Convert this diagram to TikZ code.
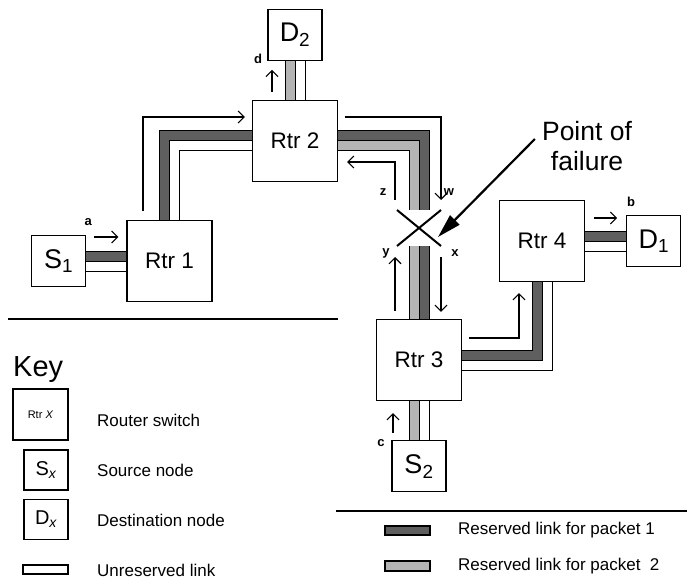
\documentclass[tikz,border=0pt]{standalone}
\usepackage{fontspec}
\setmainfont{Liberation Sans}
\usepackage{xcolor}
\usepackage{tikz}
\usetikzlibrary{arrows.meta, positioning, backgrounds, calc}
\definecolor{pktone}{RGB}{95, 95, 95}
\definecolor{pkttwo}{RGB}{180, 180, 180}

\begin{document}
\begin{tikzpicture}[x=1pt, y=-1pt,
    router/.style={draw, line width=1.3pt, fill=white, minimum width=85pt,
                   minimum height=81pt, inner sep=0pt, font=\fontsize{22.5}{24}\selectfont},
    endpt/.style={draw, line width=1.3pt, fill=white, minimum width=54pt,
                  minimum height=51pt, inner sep=0pt, font=\fontsize{27}{29}\selectfont},
    keybox/.style={draw, line width=1.3pt, fill=white, minimum width=44pt,
                   minimum height=40pt, inner sep=0pt, font=\fontsize{20}{22}\selectfont},
    resone/.style={draw=black, line width=1pt, double=pktone, double distance=9pt},
    restwo/.style={draw=black, line width=1pt, double=pkttwo, double distance=9pt},
    unres/.style={draw=black, line width=1pt, double=white, double distance=9pt},
    flow/.style={line width=1.1pt, -{Straight Barb[length=6pt, width=12pt]}},
    lbl/.style={font=\fontsize{13}{13}\selectfont\bfseries, inner sep=0pt},
    keytext/.style={anchor=west, inner sep=0pt, font=\fontsize{17}{19}\selectfont}
]
\useasboundingbox (0,0) rectangle (687,580);

% routers and end nodes
\node[router] (rtr1) at (169.5,261) {Rtr 1};
\node[router] (rtr2) at (295,141) {Rtr 2};
\node[router] (rtr3) at (419,360) {Rtr 3};
\node[router] (rtr4) at (542,241) {Rtr 4};
\node[endpt, left=40pt of rtr1] (s1) {S\textsubscript{1}};
\node[endpt, above=39pt of rtr2] (d2) {D\textsubscript{2}};
\node[endpt, below=39pt of rtr3] (s2) {S\textsubscript{2}};
\node[endpt, right=41pt of rtr4] (d1) {D\textsubscript{1}};
\coordinate (fail) at (419,228);

% links
\begin{scope}[on background layer]
    \draw[resone] ($(s1.east)+(0,-5)$) -- ($(rtr1.west)+(0,-5)$);
    \draw[unres] ($(s1.east)+(0,5)$) -- ($(rtr1.west)+(0,5)$);
    \draw[resone] ($(rtr1.north)+(-5,0)$) |- ($(rtr2.west)+(0,-5)$);
    \draw[unres] ($(rtr1.north)+(5,0)$) |- ($(rtr2.west)+(0,5)$);
    \draw[restwo] ($(rtr2.north)+(-5,0)$) -- ($(d2.south)+(-5,0)$);
    \draw[unres] ($(rtr2.north)+(5,0)$) -- ($(d2.south)+(5,0)$);
    \draw[resone] ($(rtr2.east)+(0,-5)$) -| ($(fail)+(5,-18)$);
    \draw[restwo] ($(rtr2.east)+(0,5)$) -| ($(fail)+(-5,-18)$);
    \draw[resone] ($(fail)+(5,18)$) -- ($(rtr3.north)+(5,0)$);
    \draw[restwo] ($(fail)+(-5,18)$) -- ($(rtr3.north)+(-5,0)$);
    \draw[resone] ($(rtr3.east)+(0,-5)$) -| ($(rtr4.south)+(-5,0)$);
    \draw[unres] ($(rtr3.east)+(0,5)$) -| ($(rtr4.south)+(5,0)$);
    \draw[resone] ($(rtr4.east)+(0,-5)$) -- ($(d1.west)+(0,-5)$);
    \draw[unres] ($(rtr4.east)+(0,5)$) -- ($(d1.west)+(0,5)$);
    \draw[restwo] ($(s2.north)+(-5,0)$) -- ($(rtr3.south)+(-5,0)$);
    \draw[unres] ($(s2.north)+(5,0)$) -- ($(rtr3.south)+(5,0)$);
\end{scope}

% packet routes
\draw[flow] ($(s1.east)+(8,-24)$) -- ($(rtr1.west)+(-8,-24)$);
\node[lbl] (la) at ($(s1.east)+(2,-39)$) {a};
\draw[flow] ($(rtr1.north)+(-26.5,-9)$) |- ($(rtr2.west)+(-7,-24)$);
\draw[flow] ($(rtr2.east)+(7,-24)$) -| ($(fail)+(22,-28)$);
\node[lbl] (lw) at ($(fail)+(30,-36)$) {w};
\draw[flow] ($(fail)+(22,29)$) -- ($(rtr3.north)+(22,-7)$);
\node[lbl] (lx) at ($(fail)+(36,25)$) {x};
\draw[flow] ($(rtr3.east)+(7,-22)$) -| ($(rtr4.south)+(-23,11)$);
\draw[flow] ($(rtr4.east)+(9,-23)$) -- ($(d1.west)+(-9,-23)$);
\node[lbl] (lb) at ($(d1.west)+(5,-39)$) {b};
\draw[flow] ($(s2.north)+(-26,-7)$) -- ($(s2.north)+(-26,-27)$);
\node[lbl] (lc) at ($(s2.north)+(-38,3)$) {c};
\draw[flow] ($(rtr3.north)+(-24,-8)$) -- ($(fail)+(-24,29)$);
\node[lbl] (ly) at ($(fail)+(-33,25)$) {y};
\draw[flow] ($(fail)+(-24,-28)$) |- ($(rtr2.east)+(9,21)$);
\node[lbl] (lz) at ($(fail)+(-36,-36)$) {z};
\draw[flow] ($(rtr2.north)+(-23,-8)$) -- ($(rtr2.north)+(-23,-30)$);
\node[lbl] (ld) at ($(d2.south)+(-37,-1.5)$) {d};

% failure
\draw[line width=2pt] ($(fail)+(-22,-18)$) -- ($(fail)+(22,18)$)
                      ($(fail)+(-22,18)$) -- ($(fail)+(22,-18)$);
\node[align=center, inner sep=0pt, font=\fontsize{26.5}{30}\selectfont] (pof) at (587,146) {Point of\\failure};
\draw[line width=2.2pt, -{Triangle[length=24pt, width=13pt]}] ($(pof.west)+(-7,-7)$) -- ($(fail)+(19,9)$);

% key
\draw[line width=1.3pt] (8,319) -- (338,319);
\draw[line width=1.3pt] (336,511) -- (687,511);
\node[anchor=base west, inner sep=0pt, font=\fontsize{29}{30}\selectfont] (keytitle) at (13,376) {Key};
\node[draw, line width=1.3pt, minimum width=55pt, minimum height=51pt, inner sep=0pt,
      font=\fontsize{11}{12}\selectfont] (keyrtr) at (40.5,414.5) {Rtr \textit{X}};
\node[keybox] (keysrc) at (46,470) {S\textsubscript{\itshape x}};
\node[keybox] (keydst) at (46,519.5) {D\textsubscript{\itshape x}};
\node[draw, line width=1.1pt, minimum width=45pt, minimum height=9pt, inner sep=0pt] (keyunres) at (45.5,569.5) {};
\node[draw, line width=1.1pt, fill=pktone, minimum width=45pt, minimum height=9pt, inner sep=0pt] (keyone) at (407.5,530.5) {};
\node[draw, line width=1.1pt, fill=pkttwo, minimum width=45pt, minimum height=10pt, inner sep=0pt] (keytwo) at (407.5,566) {};
\node[keytext] at (97,420) {Router switch};
\node[keytext] at (97,470) {Source node};
\node[keytext] at (97,520) {Destination node};
\node[keytext] at (97,570) {Unreserved link};
\node[keytext] at (458,530) {Reserved link for packet 1};
\node[keytext] at (458,566) {Reserved link for packet\ \ 2};
\end{tikzpicture}
\end{document}
